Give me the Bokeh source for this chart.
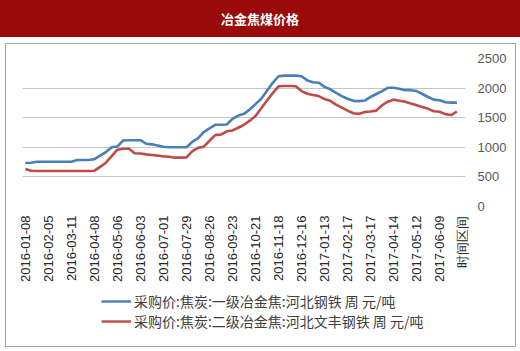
import math
import pandas as pd
from bokeh.plotting import figure
from bokeh.layouts import column
from bokeh.models import (Range1d, FixedTicker, Legend, LegendItem,
                          ColumnDataSource, Div)
from bokeh.embed import file_html
from bokeh.resources import INLINE

# ---------------- data ----------------
title_text = "冶金焦煤价格"
series1_name = "采购价:焦炭:一级冶金焦:河北钢铁 周 元/吨"
series2_name = "采购价:焦炭:二级冶金焦:河北文丰钢铁 周 元/吨"
axis_end_label = "时间区间"
skipped_weeks = ["2016-02-12", "2017-01-27"]
dates = [d.strftime("%Y-%m-%d")
         for d in pd.date_range("2016-01-08", "2017-06-30", freq="7D")
         if d.strftime("%Y-%m-%d") not in skipped_weeks]

grade1 = [735, 740, 755, 755, 755, 755, 755, 755, 755, 785,
          785, 785, 800, 860, 920, 1000, 1015, 1115, 1120, 1120,
          1120, 1060, 1050, 1030, 1010, 1000, 1000, 1000, 1000, 1090,
          1150, 1255, 1320, 1380, 1380, 1385, 1480, 1535, 1565, 1640,
          1730, 1820, 1955, 2090, 2200, 2210, 2210, 2210, 2200, 2130,
          2100, 2090, 2020, 1980, 1920, 1865, 1820, 1785, 1780, 1790,
          1850, 1900, 1950, 2005, 2005, 1990, 1965, 1965, 1950, 1900,
          1850, 1805, 1795, 1760, 1755, 1755]

grade2 = [635, 605, 600, 600, 600, 600, 600, 600, 600, 600,
          600, 600, 605, 670, 740, 850, 960, 975, 975, 900,
          895, 880, 870, 860, 846, 840, 825, 825, 830, 930,
          990, 1010, 1110, 1205, 1215, 1270, 1285, 1330, 1380, 1450,
          1530, 1660, 1790, 1915, 2030, 2035, 2035, 2030, 1950, 1905,
          1885, 1865, 1815, 1785, 1720, 1670, 1620, 1575, 1565, 1598,
          1605, 1620, 1710, 1770, 1805, 1785, 1770, 1740, 1710, 1680,
          1650, 1608, 1600, 1560, 1545, 1605]

y_ticks = [0, 500, 1000, 1500, 2000, 2500]
label_step = 4

BLUE = "#4A7EBB"
RED = "#BE4B48"

# ---------------- title bar ----------------
header = Div(text=title_text, width=520, height=37, margin=0,
             styles={"background-color": "#9B0A0A", "color": "white",
                     "font-family": "'Noto Sans CJK SC'", "font-size": "13px",
                     "font-weight": "bold", "text-align": "center",
                     "line-height": "37px"})

# ---------------- main chart ----------------
n_cat = len(dates) + 1  # last slot holds the axis-end label
src = ColumnDataSource(dict(x=list(range(len(dates))), date=dates,
                            g1=grade1, g2=grade2))

p = figure(width=509, height=244, output_backend="svg", toolbar_location=None,
           title=None, x_range=Range1d(-0.5, n_cat - 0.5),
           y_range=Range1d(y_ticks[0], y_ticks[-1]), y_axis_location="right",
           min_border_left=16, min_border_right=50, min_border_top=14,
           min_border_bottom=82, background_fill_color="white",
           border_fill_color="white", outline_line_color=None, margin=0)

p.line("x", "g1", source=src, line_color=BLUE, line_width=2.6, line_join="round")
p.line("x", "g2", source=src, line_color=RED, line_width=2.6, line_join="round")

xt = list(range(0, n_cat, label_step))
xa = p.xaxis[0]
xa.ticker = FixedTicker(ticks=xt)
xa.major_label_overrides = {i: (dates[i] if i < len(dates) else axis_end_label)
                            for i in xt}
xa.major_label_orientation = math.pi / 2
xa.major_label_text_font = "Liberation Sans"
xa.major_label_text_font_size = "13px"
xa.major_label_text_color = "#262626"
xa.axis_line_color = None
xa.major_tick_line_color = None
xa.minor_tick_line_color = None
xa.major_tick_out = 0
xa.major_tick_in = 0
xa.major_label_standoff = 9

yt = FixedTicker(ticks=y_ticks)
ya = p.yaxis[0]
ya.ticker = yt
ya.major_label_text_font = "Liberation Sans"
ya.major_label_text_font_size = "13px"
ya.major_label_text_color = "#595959"
ya.axis_line_color = None
ya.major_tick_line_color = None
ya.minor_tick_line_color = None
ya.major_tick_out = 0
ya.major_tick_in = 0
ya.major_label_standoff = 12

p.xgrid.grid_line_color = None
p.ygrid[0].ticker = yt
p.ygrid.grid_line_color = "#C4C4C4"
p.ygrid.grid_line_width = 1

# ---------------- legend strip ----------------
# the series are re-plotted here only to drive the legend; the strip's ranges
# keep the lines themselves out of view
lf = figure(width=509, height=58, output_backend="svg", toolbar_location=None,
            title=None, x_range=Range1d(-3, -2), y_range=Range1d(-3, -2),
            x_axis_location=None, y_axis_location=None,
            min_border=0, outline_line_color=None, margin=0,
            background_fill_color="white", border_fill_color="white")
lf.grid.visible = False
l1 = lf.line("x", "g1", source=src, line_color=BLUE, line_width=2.4)
l2 = lf.line("x", "g2", source=src, line_color=RED, line_width=2.4)
legend = Legend(items=[LegendItem(label=series1_name, renderers=[l1]),
                       LegendItem(label=series2_name, renderers=[l2])],
                location=(79, 15), orientation="vertical", glyph_width=30,
                glyph_height=16, label_height=16, spacing=0, label_standoff=3,
                padding=0, margin=0, border_line_color=None,
                background_fill_alpha=0, label_text_font="Noto Sans CJK SC",
                label_text_font_size="14px", label_text_color="#404040")
lf.add_layout(legend)

body = column(p, lf, spacing=0, margin=(6, 0, 0, 5),
              styles={"border": "1px solid #A6A6A6"})
layout = column(header, body, spacing=0)
open("out.html", "w").write(file_html(layout, INLINE))
